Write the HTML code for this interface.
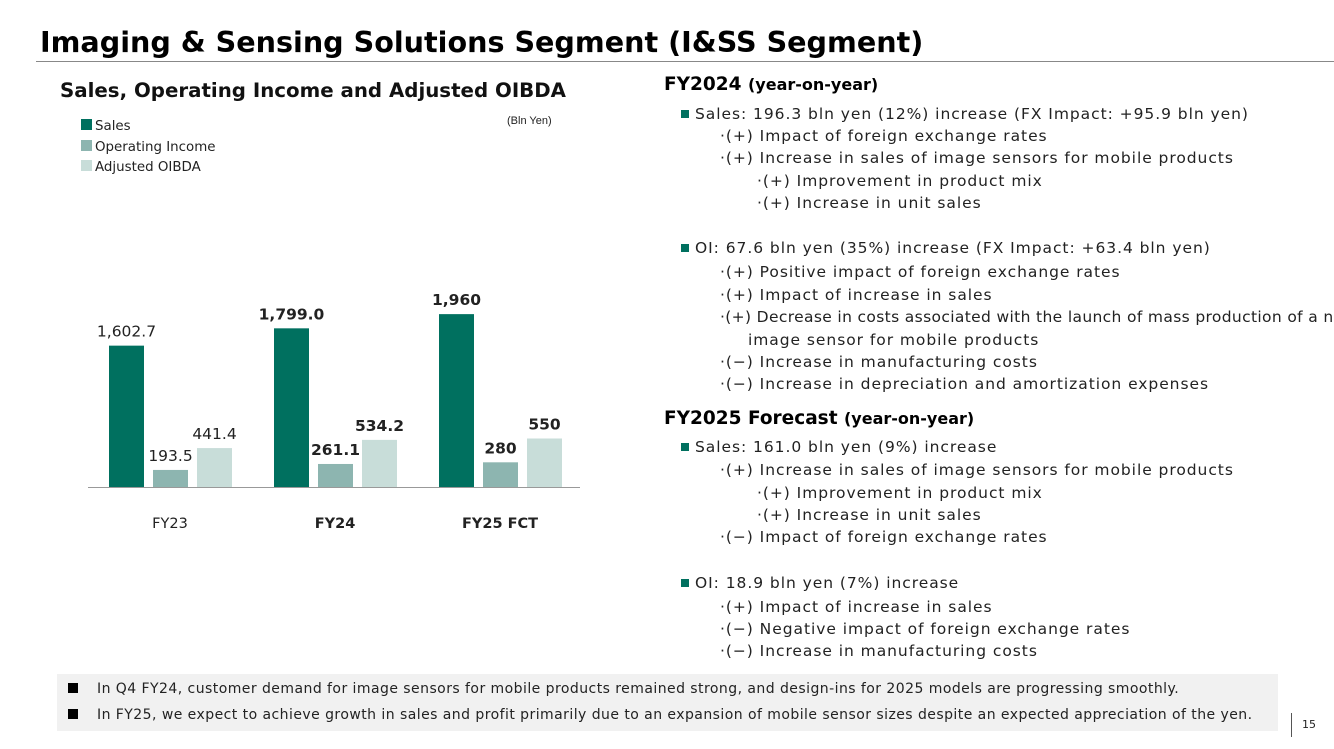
<!DOCTYPE html>
<html><head><meta charset="utf-8"><style>
body{margin:0;width:1334px;height:749px;background:#fff;position:relative;overflow:hidden;font-family:"DejaVu Sans","Liberation Sans",sans-serif;color:#222}
.a{position:absolute;white-space:nowrap}
.t{font-size:15.5px;line-height:18px;letter-spacing:0.95px}
.sq{display:inline-block;width:8px;height:8px;background:#00705f;margin-right:6px;vertical-align:1px}
</style></head><body>
<div class="a" style="left:40px;top:25px;font-size:28.6px;font-weight:bold;color:#000">Imaging &amp; Sensing Solutions Segment (I&amp;SS Segment)</div>
<div class="a" style="left:36px;top:61px;width:1298px;height:1px;background:#888"></div>
<div class="a" style="left:60px;top:79px;font-size:19.8px;font-weight:bold;color:#111">Sales, Operating Income and Adjusted OIBDA</div>
<div class="a" style="left:507px;top:115px;font-size:11px;font-family:'Liberation Sans',sans-serif">(Bln Yen)</div>
<div class="a" style="left:81px;top:117px;font-size:13.4px;line-height:20.5px;font-family:'DejaVu Sans',sans-serif">
<div><span style="display:inline-block;width:11px;height:11px;background:#00705f;margin-right:3px"></span>Sales</div>
<div><span style="display:inline-block;width:11px;height:11px;background:#8db5b0;margin-right:3px"></span>Operating Income</div>
<div><span style="display:inline-block;width:11px;height:11px;background:#c8ddd9;margin-right:3px"></span>Adjusted OIBDA</div>
</div>
<svg id="chart" class="a" style="left:0;top:0" width="700" height="560"></svg>
<script>
const categories=["FY23","FY24","FY25 FCT"];
const sales=[1602.7,1799.0,1960];
const oi=[193.5,261.1,280];
const oibda=[441.4,534.2,550];
const salesLabels=["1,602.7","1,799.0","1,960"];
const oiLabels=["193.5","261.1","280"];
const oibdaLabels=["441.4","534.2","550"];
const boldCat=[false,true,true];
const svg=document.getElementById('chart');
const NS='http://www.w3.org/2000/svg';
const base=487,scale=0.0882;
const y=v=>base-v*scale;
const gx=i=>109+i*165;
function mk(t,a){const e=document.createElementNS(NS,t);for(const k in a)e.setAttribute(k,a[k]);svg.appendChild(e);return e;}
const series=[[sales,salesLabels,'#00705f','sales'],[oi,oiLabels,'#8db5b0','oi'],[oibda,oibdaLabels,'#c8ddd9','oibda']];
categories.forEach((c,i)=>{
 series.forEach((s,j)=>{
  const x=gx(i)+j*44,v=s[0][i];
  const r=mk('rect',{x:x,y:y(v),width:35,height:v*scale,fill:s[2]});
  
  
  const t=mk('text',{x:x+17.5,y:y(v)-9,'text-anchor':'middle','font-size':'15.5','font-family':'DejaVu Sans, sans-serif','font-weight':boldCat[i]?'bold':'normal',fill:'#222'});
  t.textContent=s[1][i];
  
  
 });
 const ct=mk('text',{x:gx(i)+61,y:528,'text-anchor':'middle','font-size':'14.5','font-family':'DejaVu Sans, sans-serif','font-weight':boldCat[i]?'bold':'normal',fill:'#222'});
 ct.textContent=c;
 
 
});
const ax=mk('line',{x1:88,x2:580,y1:base+0.5,y2:base+0.5,stroke:'#999','stroke-width':1});


</script>
<div class="a" style="left:664px;top:74px;font-size:18.5px;font-weight:bold;color:#000">FY2024 <span style="font-size:16px">(year-on-year)</span></div>
<div>
<div class="a t" style="left:681px;top:105px"><span class="sq"></span>Sales: 196.3 bln yen (12%) increase (FX Impact: +95.9 bln yen)</div>
<div class="a t" style="left:720px;top:127px">·(+) Impact of foreign exchange rates</div>
<div class="a t" style="left:720px;top:149px">·(+) Increase in sales of image sensors for mobile products</div>
<div class="a t" style="left:757px;top:172px">·(+) Improvement in product mix</div>
<div class="a t" style="left:757px;top:194px">·(+) Increase in unit sales</div>
<div class="a t" style="left:681px;top:239px"><span class="sq"></span>OI: 67.6 bln yen (35%) increase (FX Impact: +63.4 bln yen)</div>
<div class="a t" style="left:720px;top:263px">·(+) Positive impact of foreign exchange rates</div>
<div class="a t" style="left:720px;top:286px">·(+) Impact of increase in sales</div>
<div class="a t" style="left:720px;top:308px;letter-spacing:0.35px">·(+) Decrease in costs associated with the launch of mass production of a new</div>
<div class="a t" style="left:748px;top:331px">image sensor for mobile products</div>
<div class="a t" style="left:720px;top:353px">·(−) Increase in manufacturing costs</div>
<div class="a t" style="left:720px;top:375px">·(−) Increase in depreciation and amortization expenses</div>
</div>
<div class="a" style="left:664px;top:408px;font-size:18.5px;font-weight:bold;color:#000">FY2025 Forecast <span style="font-size:16px">(year-on-year)</span></div>
<div>
<div class="a t" style="left:681px;top:438px"><span class="sq"></span>Sales: 161.0 bln yen (9%) increase</div>
<div class="a t" style="left:720px;top:461px">·(+) Increase in sales of image sensors for mobile products</div>
<div class="a t" style="left:757px;top:484px">·(+) Improvement in product mix</div>
<div class="a t" style="left:757px;top:506px">·(+) Increase in unit sales</div>
<div class="a t" style="left:720px;top:528px">·(−) Impact of foreign exchange rates</div>
<div class="a t" style="left:681px;top:574px"><span class="sq"></span>OI: 18.9 bln yen (7%) increase</div>
<div class="a t" style="left:720px;top:598px">·(+) Impact of increase in sales</div>
<div class="a t" style="left:720px;top:620px">·(−) Negative impact of foreign exchange rates</div>
<div class="a t" style="left:720px;top:642px">·(−) Increase in manufacturing costs</div>
</div>
<div class="a" style="left:57px;top:674px;width:1221px;height:57px;background:#f1f1f1;font-size:14px;letter-spacing:0.45px;line-height:27px">
<div class="a" style="left:11px;top:2px"><span style="display:inline-block;width:10px;height:10px;background:#000;margin-right:19px"></span>In Q4 FY24, customer demand for image sensors for mobile products remained strong, and design-ins for 2025 models are progressing smoothly.</div>
<div class="a" style="left:11px;top:28px"><span style="display:inline-block;width:10px;height:10px;background:#000;margin-right:19px"></span>In FY25, we expect to achieve growth in sales and profit primarily due to an expansion of mobile sensor sizes despite an expected appreciation of the yen.</div>
</div>
<div class="a" style="left:1291px;top:713px;width:1px;height:24px;background:#555"></div>
<div class="a" style="left:1302px;top:718px;font-size:11px">15</div>
</body></html>
